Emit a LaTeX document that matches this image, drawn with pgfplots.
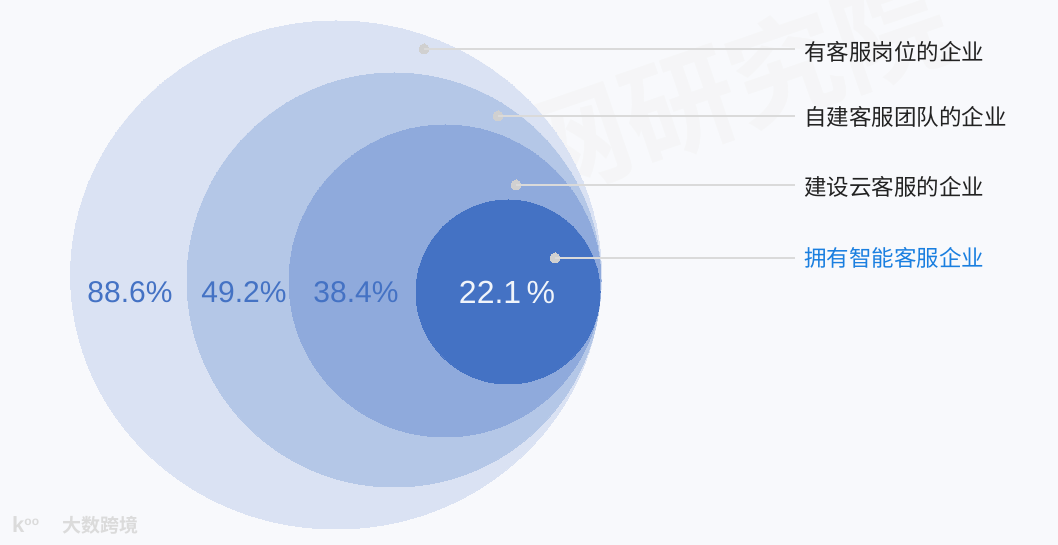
\documentclass[border=0pt]{standalone}
\usepackage{pgfplots}
\pgfplotsset{compat=1.18}
\usepackage{fontspec}
\setmainfont{Liberation Sans}
\newfontfamily\cjk{Noto Sans CJK SC}
\newfontfamily\cjkb{Noto Sans CJK SC Bold}
\definecolor{bg}{HTML}{F8F9FC}
\definecolor{c1}{HTML}{DAE2F3}
\definecolor{c2}{HTML}{B4C7E7}
\definecolor{c3}{HTML}{8FAADC}
\definecolor{c4}{HTML}{4472C4}
\definecolor{lead}{HTML}{DADADA}
\definecolor{dot}{HTML}{D0D0D0}
\definecolor{lab}{HTML}{222222}
\definecolor{blu}{HTML}{1A7FE0}
\definecolor{pct}{HTML}{4472C4}
\begin{document}
\begin{tikzpicture}
\begin{axis}[
  set layers=standard,
  scale only axis, width=1058pt, height=545pt,
  xmin=0, xmax=1058, ymin=0, ymax=545, y dir=reverse,
  hide axis, clip=false,
]
\begin{pgfonlayer}{axis background}
\fill[bg] (axis cs:0,0) rectangle (axis cs:1058,545);
\node[rotate=19, text=black!7, opacity=0.6, font=\cjkb\fontsize{112}{112}\selectfont] at (axis cs:732,86) {网研究院};
\end{pgfonlayer}
% circles
\addplot[only marks, mark=*, mark size=254, mark layer=axis grid, mark options={fill=c1, draw=c1, line width=0pt, xscale=1.045}] coordinates {(336,275)};
\addplot[only marks, mark=*, mark size=207, mark layer=axis grid, mark options={fill=c2, draw=c2, line width=0pt}] coordinates {(394,280)};
\addplot[only marks, mark=*, mark size=156, mark layer=axis grid, mark options={fill=c3, draw=c3, line width=0pt}] coordinates {(445,281)};
\addplot[only marks, mark=*, mark size=92, mark layer=axis grid, mark options={fill=c4, draw=c4, line width=0pt}] coordinates {(508,292)};
\begin{pgfonlayer}{axis ticks}
\node[rotate=19, text=white, opacity=0.35, font=\cjkb\fontsize{112}{112}\selectfont] at (axis cs:732,86) {网研究院};
\end{pgfonlayer}
% leader lines
\addplot[on layer=axis foreground, lead, line width=1.2pt] coordinates {(424,49) (795,49)};
\addplot[on layer=axis foreground, lead, line width=1.2pt] coordinates {(498,116) (795,116)};
\addplot[on layer=axis foreground, lead, line width=1.2pt] coordinates {(516,185) (795,185)};
\addplot[on layer=axis foreground, lead, line width=1.2pt] coordinates {(555,258) (795,258)};
\addplot[on layer=axis foreground, only marks, mark=*, mark size=5, mark options={fill=dot, draw=dot, line width=0pt}] coordinates {(424,49) (498,116) (516,185) (555,258)};
\begin{pgfonlayer}{axis foreground}
% labels
\node[anchor=west, text=lab, font=\cjk\fontsize{22.5}{24}\selectfont, inner sep=0] at (axis cs:804,52) {有客服岗位的企业};
\node[anchor=west, text=lab, font=\cjk\fontsize{22.5}{24}\selectfont, inner sep=0] at (axis cs:804,117) {自建客服团队的企业};
\node[anchor=west, text=lab, font=\cjk\fontsize{22.5}{24}\selectfont, inner sep=0] at (axis cs:804,187) {建设云客服的企业};
\node[anchor=west, text=blu, font=\cjk\fontsize{22.5}{24}\selectfont, inner sep=0] at (axis cs:804,258) {拥有智能客服企业};
% percentages
\node[text=pct, font=\fontsize{30}{32}\selectfont, inner sep=0] at (axis cs:130,292) {88.6\%};
\node[text=pct, font=\fontsize{30}{32}\selectfont, inner sep=0] at (axis cs:244,292) {49.2\%};
\node[text=pct, font=\fontsize{30}{32}\selectfont, inner sep=0] at (axis cs:356,292) {38.4\%};
\node[text=white!92!c4, font=\fontsize{32}{34}\selectfont, inner sep=0] at (axis cs:507,292) {22.1\,\%};
% logo
\node[anchor=west, text=white!86!black, font=\cjkb\fontsize{19}{20}\selectfont, inner sep=0] at (axis cs:62,525) {大数跨境};
\node[anchor=west, text=white!86!black, font=\bfseries\fontsize{22}{22}\selectfont, inner sep=0] at (axis cs:12,525) {k\raisebox{0.6ex}{\fontsize{12}{12}\selectfont oo}};
\end{pgfonlayer}
\end{axis}
\pgfresetboundingbox
\path (current axis.south west) rectangle (current axis.north east);
\end{tikzpicture}
\end{document}
